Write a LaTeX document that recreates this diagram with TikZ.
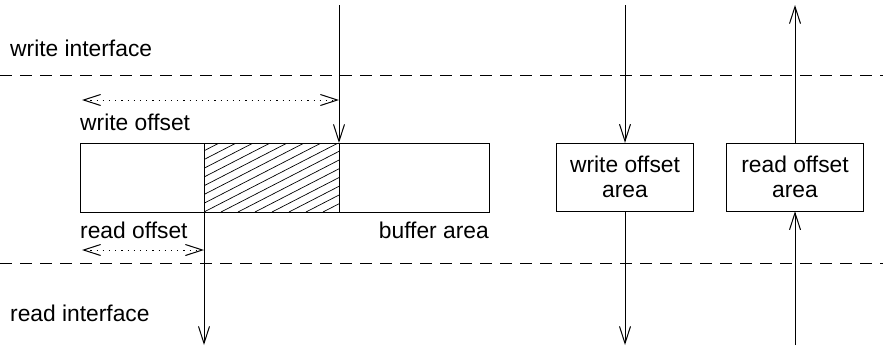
\documentclass[tikz,border=0pt]{standalone}
\usepackage{fontspec}
\setmainfont{Liberation Sans}
\usetikzlibrary{arrows.meta}
\begin{document}
\begin{tikzpicture}[x=1pt,y=-1pt,
  font=\fontsize{22.8}{25}\selectfont,
  every node/.style={inner sep=0pt},
  tip/.tip={Straight Barb[length=17pt,width=11pt,line width=1pt]},
  vee/.style={-tip},
  span/.style={dash pattern=on 1.2pt off 5pt,tip-tip},
  border/.style={dash pattern=on 12pt off 8pt},
  lbl/.style={anchor=west},
  areabox/.style={draw,minimum width=137pt,minimum height=68pt,align=center,font=\fontsize{22.8}{24.5}\selectfont}]
\useasboundingbox (0,0) rectangle (883,349);

% interface borders
\draw[border] (0,75) -- (883,75);
\draw[border] (0,263) -- (883,263);
\node[lbl] (wi) at (10,48) {write interface};
\node[lbl] (ri) at (10,313) {read interface};

% buffer with the filled part hatched
\coordinate (bufNW) at (80,143);
\coordinate (bufSE) at (489,212);
\coordinate (fillNW) at (204,143);
\coordinate (fillSE) at (339,212);
\begin{scope}
  \clip (fillNW) rectangle (fillSE);
  \foreach \k in {-8,...,10}
    \draw[line width=0.7pt] (204+17*\k,212) -- ++(140,-72);
\end{scope}
\draw (bufNW) rectangle (bufSE);
\draw (fillNW) -- (204,212);
\draw (fillSE) -- (339,143);

% write pointer
\coordinate (wtop) at (339,5);
\coordinate (wbot) at (339,143);
\draw[vee] (wtop) -- (wbot);
\coordinate (woL) at (82,100);
\coordinate (woR) at (339,100);
\draw[span] (woL) -- (woR);
\node[lbl] (wo) at (80,122) {write offset};

% read pointer
\coordinate (rtop) at (204,212);
\coordinate (rbot) at (204,345);
\draw[vee] (rtop) -- (rbot);
\coordinate (roL) at (82,250);
\coordinate (roR) at (204,250);
\draw[span] (roL) -- (roR);
\node[lbl] (ro) at (80,230) {read offset};
\node[anchor=east] (ba) at (489,230) {buffer area};

% offset areas
\node[areabox] (woa) at (625,177) {write offset\\area};
\node[areabox] (roa) at (795,177) {read offset\\area};
\coordinate (woaT) at (625,5);
\coordinate (woaB) at (625,345);
\coordinate (roaT) at (795,5);
\coordinate (roaB) at (795,345);
\draw[vee] (woaT) -- (woa.north);
\draw[vee] (woa.south) -- (woaB);
\draw[vee] (roa.north) -- (roaT);
\draw[vee] (roaB) -- (roa.south);
\end{tikzpicture}
\end{document}
